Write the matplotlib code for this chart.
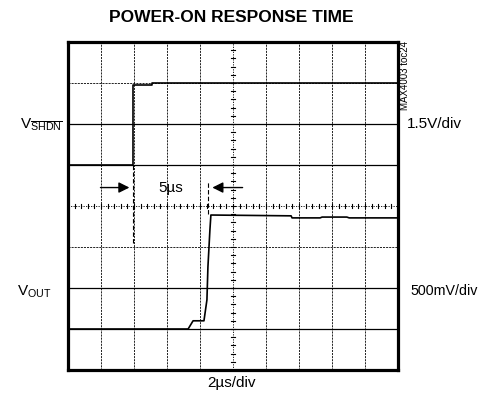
import matplotlib
matplotlib.use('Agg')
import matplotlib.pyplot as plt

# fonts: narrow helvetica-like look if present, else Liberation Sans
plt.rcParams['font.family'] = ['Liberation Sans Narrow', 'Liberation Sans', 'DejaVu Sans']
plt.rcParams['mathtext.fontset'] = 'custom'
plt.rcParams['mathtext.rm'] = 'Liberation Sans'
plt.rcParams['mathtext.it'] = 'Liberation Sans'

# data (time in us, y in screen divisions)
shdn_t = [0, 3.94, 3.94, 5.1, 5.1, 20]
shdn_y = [5.0, 5.0, 6.95, 6.95, 7.0, 7.0]

vout_t = [0, 6.96, 7.28, 7.58, 8.24, 8.42, 8.48, 8.6, 8.66, 13.52, 13.58, 15.28, 15.4, 16.9, 17.04, 20]
vout_y = [1.0, 1.0, 1.0, 1.2, 1.2, 1.71, 2.51, 3.41, 3.78, 3.76, 3.71, 3.71, 3.73, 3.73, 3.71, 3.71]

marker_t1 = 3.94
marker_t2 = 8.48

x_divs = list(range(0, 22, 2))
solid_rows = [1, 2, 5, 6]
dashed_rows = [3, 7]

W, H = 481, 404
fig = plt.figure(figsize=(W / 100, H / 100), dpi=100)
ax = fig.add_axes([68 / W, (H - 370) / H, 330 / W, 328 / H])
ax.set_xlim(0, 20)
ax.set_ylim(0, 8)
ax.set_xticks([])
ax.set_yticks([])
for s in ax.spines.values():
    s.set_linewidth(2.3)
    s.set_color('black')

# graticule
for x in x_divs[1:-1]:
    if x == 10:
        continue
    ax.axvline(x, color='black', lw=0.6, ls=(0, (2.5, 1.2)))
for r in solid_rows:
    ax.axhline(r, color='black', lw=0.9)
for r in dashed_rows:
    ax.axhline(r, color='black', lw=0.6, ls=(0, (2.5, 1.2)))

# center axes with minor ticks
ax.axvline(10, color='black', lw=0.6, ls=(0, (1.5, 1.5)))
ax.axhline(4, color='black', lw=0.6, ls=(0, (1.5, 1.5)))
for i in range(1, 50):
    x = i * 0.4
    ax.plot([x, x], [3.94, 4.06], color='black', lw=0.8)
for i in range(1, 40):
    y = i * 0.2
    ax.plot([9.85, 10.15], [y, y], color='black', lw=0.8)

# traces
ax.plot(shdn_t, shdn_y, color='black', lw=1.2)
ax.plot(vout_t, vout_y, color='black', lw=1.2)

# time markers
ax.plot([marker_t1, marker_t1], [3.1, 5.0], color='black', lw=0.8, ls=(0, (4, 2)))
ax.plot([marker_t2, marker_t2], [3.8, 4.6], color='black', lw=0.8, ls=(0, (4, 2)))
ax.annotate('', xy=(marker_t1 - 0.05, 4.45), xytext=(1.8, 4.45),
            arrowprops=dict(arrowstyle='-|>', color='black', lw=1.0, mutation_scale=16))
ax.annotate('', xy=(marker_t2 + 0.1, 4.45), xytext=(10.75, 4.45),
            arrowprops=dict(arrowstyle='-|>', color='black', lw=1.0, mutation_scale=16))
ax.text(6.2, 4.45, '5µs', ha='center', va='center', fontsize=11)

# labels
def px(x, y):
    return x / W, 1 - y / H

fig.text(*px(231, 17), 'POWER-ON RESPONSE TIME', ha='center', va='center',
         fontsize=12.5, fontweight='bold')
fig.text(*px(20, 125), r'V$_{\overline{\mathrm{SHDN}}}$', ha='left', va='center', fontsize=11)
fig.text(*px(17, 292), r'V$_{\mathrm{OUT}}$', ha='left', va='center', fontsize=11)
fig.text(*px(407, 124), '1.5V/div', ha='left', va='center', fontsize=11)
fig.text(*px(410, 291), '500mV/div', ha='left', va='center', fontsize=10.3)
fig.text(*px(232, 383), '2µs/div', ha='center', va='center', fontsize=11)
fig.text(*px(405, 76), 'MAX4003 toc24', ha='center', va='center', rotation=90, fontsize=7)

fig.savefig('out.png', dpi=100)
